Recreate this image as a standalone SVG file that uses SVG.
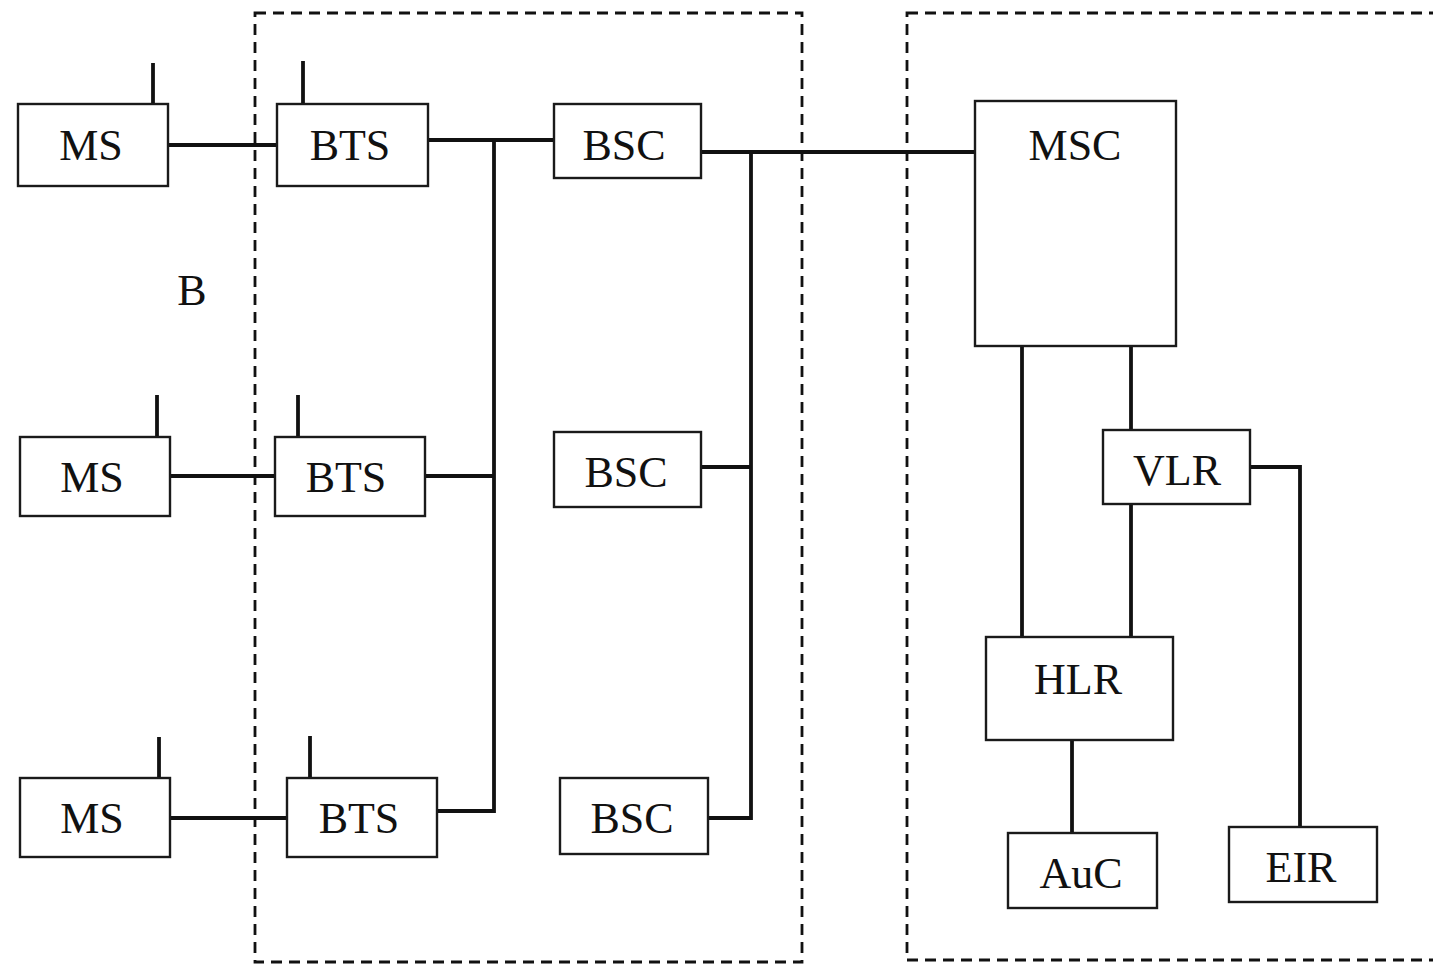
<svg xmlns="http://www.w3.org/2000/svg" width="1433" height="966" viewBox="0 0 1433 966">
<style>
.box{fill:#fff;stroke:#1a1a1a;stroke-width:2.4}
.lbl{font-family:"Liberation Serif","Times New Roman",serif;font-size:44px;fill:#111;text-anchor:middle}
.ant{stroke:#111;stroke-width:3.8;fill:none}
.con{stroke:#111;stroke-width:3.8;fill:none}
.dash{fill:none;stroke:#111;stroke-width:2.8;stroke-dasharray:11 7}
</style>
<rect width="1433" height="966" fill="#fff"/>
<g id="regions">
<rect class="dash" x="255" y="13" width="547" height="949"/>
<rect class="dash" x="907" y="13" width="540" height="947"/>
</g>
<g id="connectors">
<path class="con" d="M168 145H277"/>
<path class="con" d="M170 476H275"/>
<path class="con" d="M170 818H287"/>
<path class="con" d="M428 140H554"/>
<path class="con" d="M494 140V811H437"/>
<path class="con" d="M425 476H494"/>
<path class="con" d="M701 152H975"/>
<path class="con" d="M751 152V818H708"/>
<path class="con" d="M701 467H751"/>
<path class="con" d="M1022 346V637"/>
<path class="con" d="M1131 346V430"/>
<path class="con" d="M1131 504V637"/>
<path class="con" d="M1072 740V833"/>
<path class="con" d="M1250 467H1300V827"/>
</g>
<g id="ms1"><path class="ant" d="M153 63V104"/><rect class="box" x="18" y="104" width="150" height="82"/><text class="lbl" x="91" y="160">MS</text></g>
<g id="ms2"><path class="ant" d="M157 395V437"/><rect class="box" x="20" y="437" width="150" height="79"/><text class="lbl" x="92" y="492">MS</text></g>
<g id="ms3"><path class="ant" d="M159 737V778"/><rect class="box" x="20" y="778" width="150" height="79"/><text class="lbl" x="92" y="833">MS</text></g>
<g id="bts1"><path class="ant" d="M303 61V104"/><rect class="box" x="277" y="104" width="151" height="82"/><text class="lbl" x="350" y="160">BTS</text></g>
<g id="bts2"><path class="ant" d="M298 395V437"/><rect class="box" x="275" y="437" width="150" height="79"/><text class="lbl" x="346" y="492">BTS</text></g>
<g id="bts3"><path class="ant" d="M310 736V778"/><rect class="box" x="287" y="778" width="150" height="79"/><text class="lbl" x="359" y="833">BTS</text></g>
<g id="bsc1"><rect class="box" x="554" y="104" width="147" height="74"/><text class="lbl" x="624" y="160">BSC</text></g>
<g id="bsc2"><rect class="box" x="554" y="432" width="147" height="75"/><text class="lbl" x="626" y="487">BSC</text></g>
<g id="bsc3"><rect class="box" x="560" y="778" width="148" height="76"/><text class="lbl" x="632" y="833">BSC</text></g>
<g id="msc"><rect class="box" x="975" y="101" width="201" height="245"/><text class="lbl" x="1075" y="160">MSC</text></g>
<g id="vlr"><rect class="box" x="1103" y="430" width="147" height="74"/><text class="lbl" x="1177" y="485">VLR</text></g>
<g id="hlr"><rect class="box" x="986" y="637" width="187" height="103"/><text class="lbl" x="1078" y="694">HLR</text></g>
<g id="auc"><rect class="box" x="1008" y="833" width="149" height="75"/><text class="lbl" x="1081" y="888">AuC</text></g>
<g id="eir"><rect class="box" x="1229" y="827" width="148" height="75"/><text class="lbl" x="1301" y="882">EIR</text></g>
<g id="label-b"><text class="lbl" x="192" y="305">B</text></g>
</svg>
